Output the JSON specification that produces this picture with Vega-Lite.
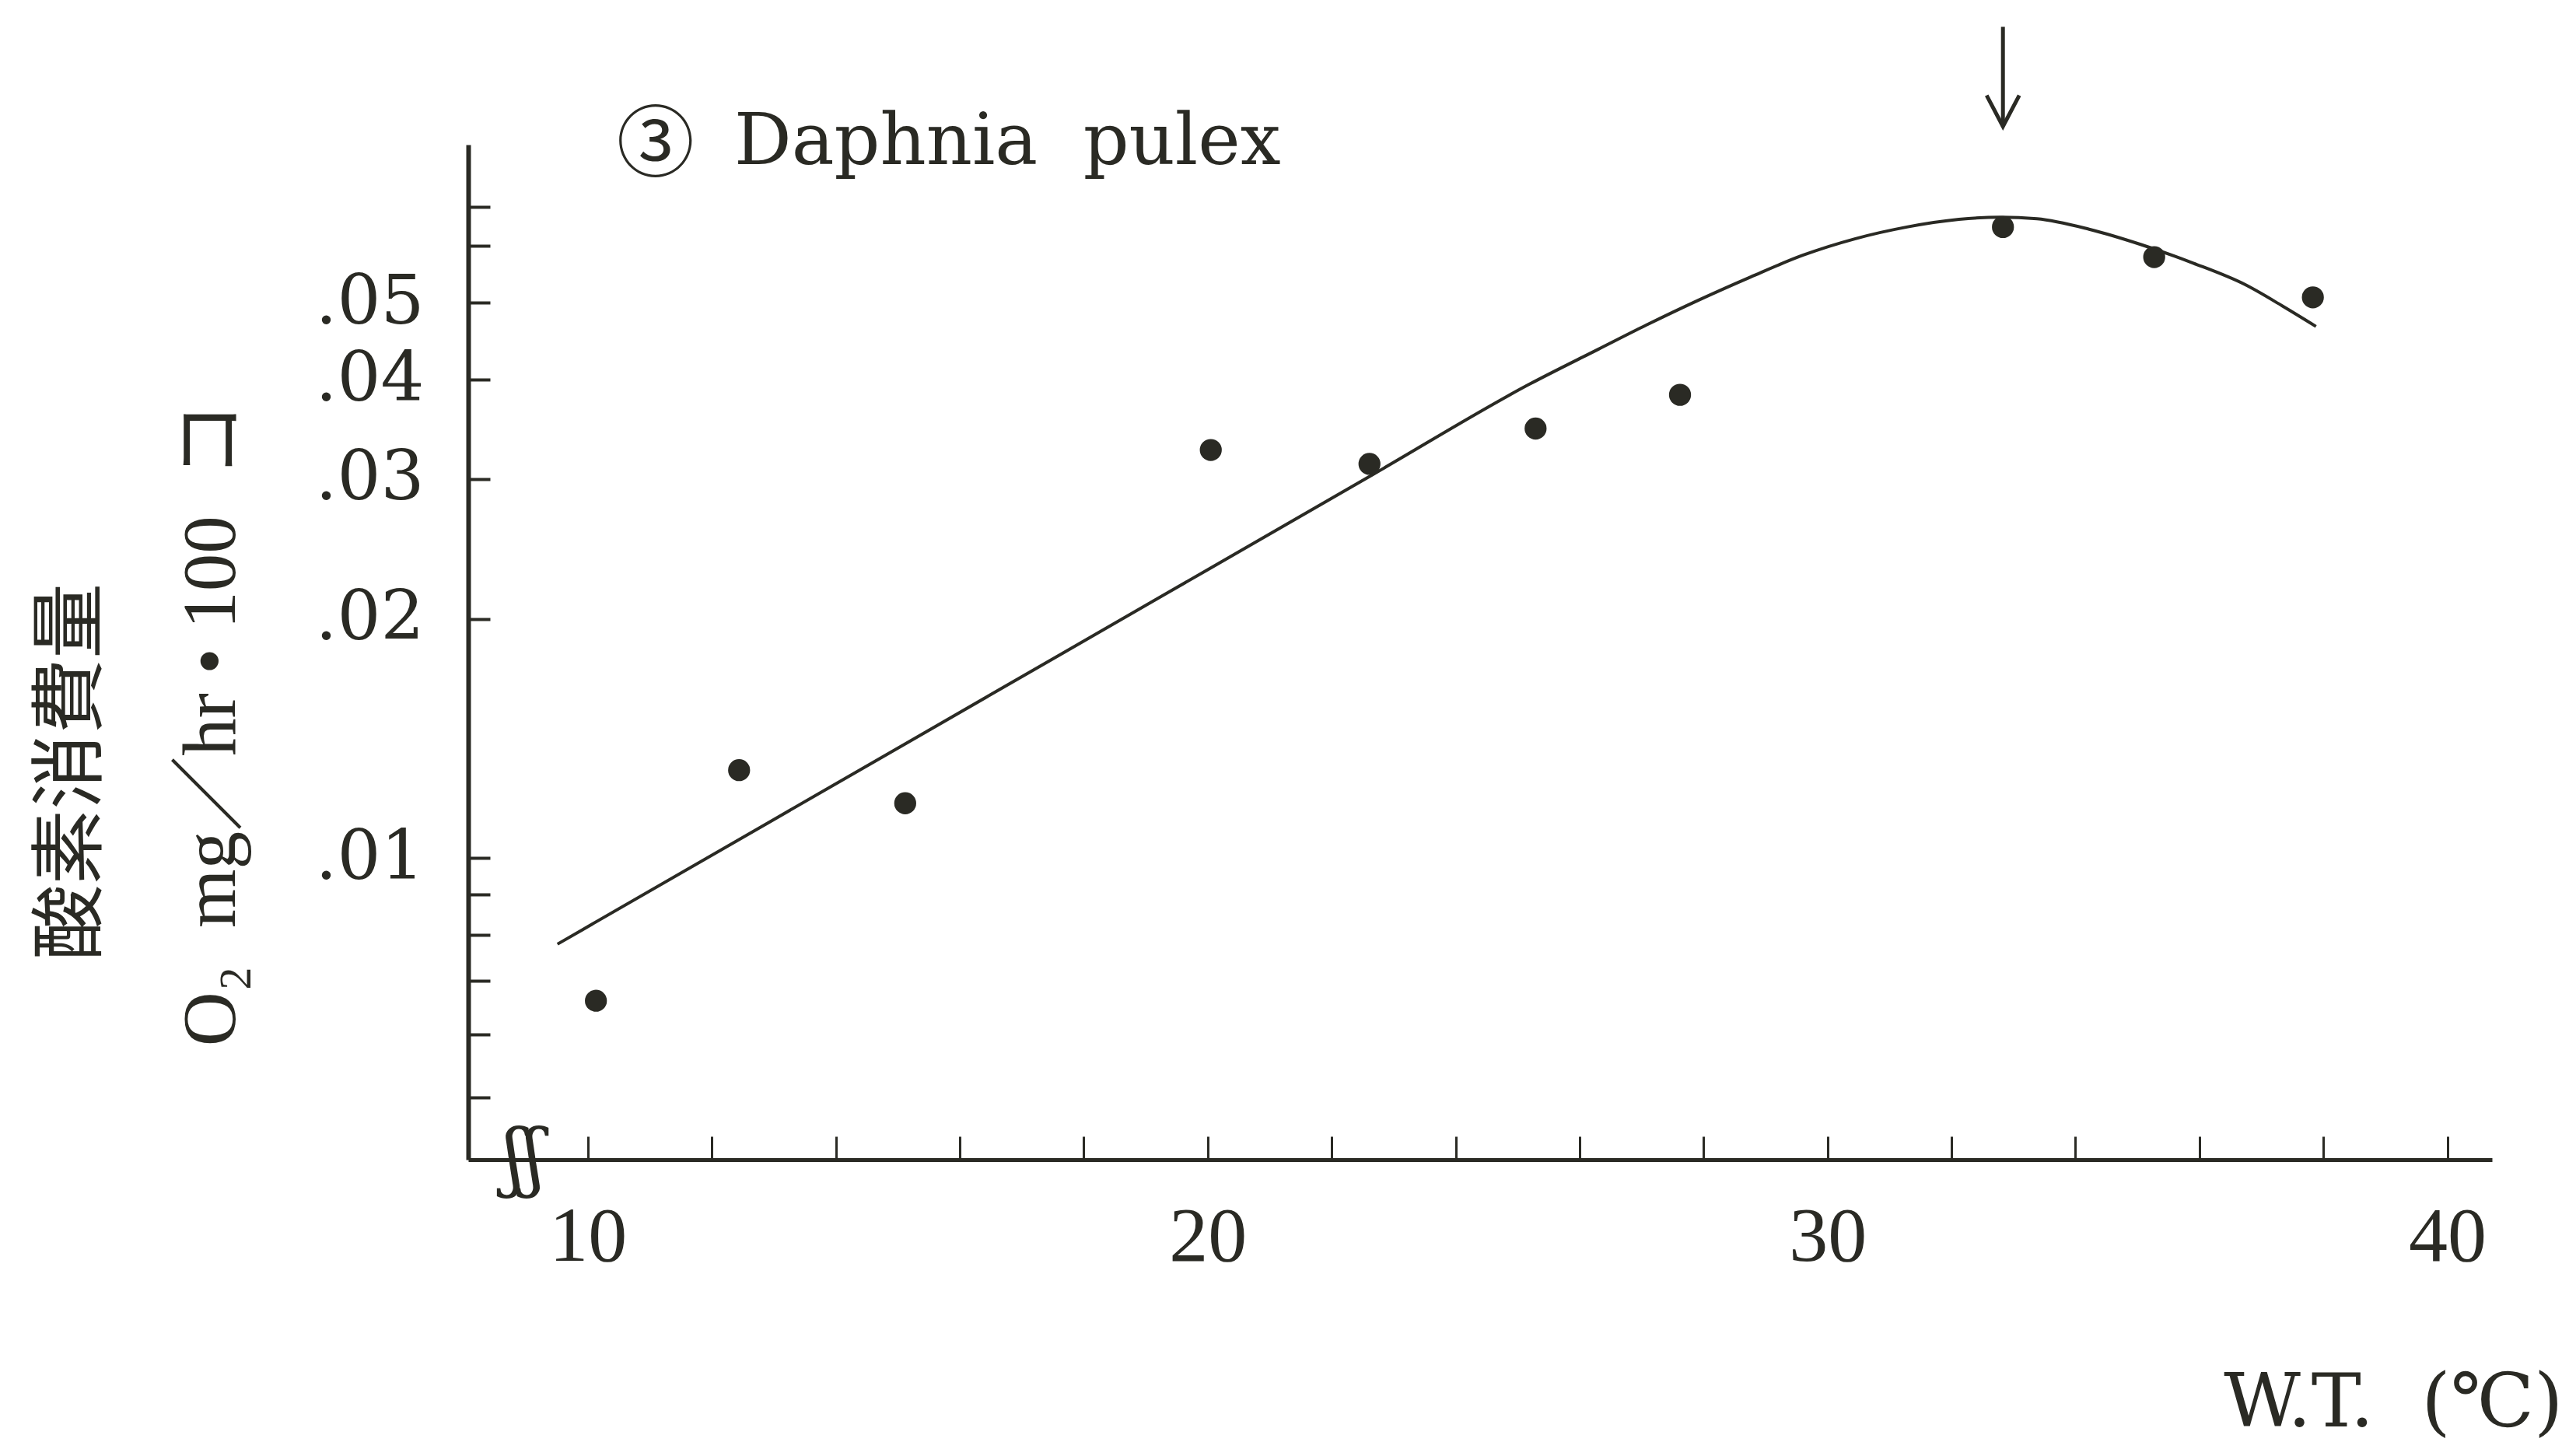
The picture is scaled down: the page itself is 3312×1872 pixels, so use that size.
{
  "$schema": "https://vega.github.io/schema/vega-lite/v6.json",
  "autosize": "none",
  "width": 2602,
  "height": 1305,
  "padding": {"left": 602, "top": 186, "right": 108, "bottom": 381},
  "background": "#ffffff",
  "config": {"view": {"stroke": null}, "axis": {"grid": false}},
  "datasets": {
    "curve": [
      {"t": 9.51, "v": 0.00779},
      {"t": 13, "v": 0.01118},
      {"t": 16.5, "v": 0.01606},
      {"t": 20, "v": 0.02307},
      {"t": 22.7, "v": 0.03051},
      {"t": 25.2, "v": 0.03953},
      {"t": 26.3, "v": 0.0437},
      {"t": 27.08, "v": 0.0469},
      {"t": 27.92, "v": 0.0504},
      {"t": 28.76, "v": 0.0539},
      {"t": 29.6, "v": 0.0574},
      {"t": 30.44, "v": 0.0602},
      {"t": 31.28, "v": 0.0623},
      {"t": 32.12, "v": 0.0637},
      {"t": 32.79, "v": 0.0641},
      {"t": 33.38, "v": 0.0638},
      {"t": 34.22, "v": 0.0619},
      {"t": 35.06, "v": 0.0592},
      {"t": 35.9, "v": 0.0561},
      {"t": 36.74, "v": 0.0527},
      {"t": 37.33, "v": 0.0496},
      {"t": 37.88, "v": 0.0467}
    ],
    "points": [
      {"t": 10.13, "v": 0.00661},
      {"t": 12.44, "v": 0.0129},
      {"t": 15.12, "v": 0.01172},
      {"t": 20.05, "v": 0.03264},
      {"t": 22.61, "v": 0.03135},
      {"t": 25.29, "v": 0.03473},
      {"t": 27.62, "v": 0.0383},
      {"t": 32.83, "v": 0.0623},
      {"t": 35.27, "v": 0.0571},
      {"t": 37.83, "v": 0.0508}
    ],
    "arrow": [
      {"t": 32.83, "top": 0.1113, "tip": 0.0834}
    ],
    "brk": [
      {"t": 8.97, "v": 0.00417, "s": "ʃʃ"}
    ],
    "num": [
      {"t": 11.09, "v": 0.0735, "s": "③"}
    ],
    "label": [
      {"t": 12.36, "v": 0.0748, "s": "Daphnia\u00a0\u00a0pulex"}
    ]
  },
  "layer": [
    {
      "data": {"name": "curve"},
      "mark": {"type": "line", "interpolate": "monotone", "strokeWidth": 4, "color": "#2a2a24"},
      "encoding": {
        "x": {
          "field": "t",
          "type": "quantitative",
          "scale": {"domain": [8.07, 40.72], "nice": false, "zero": false},
          "axis": {
            "values": [10, 12, 14, 16, 18, 20, 22, 24, 26, 28, 30, 32, 34, 36, 38, 40],
            "format": "d",
            "labelExpr": "datum.value % 10 === 0 ? datum.label : ''",
            "tickSize": -30,
            "tickWidth": 3,
            "tickColor": "#2a2a24",
            "domainWidth": 5,
            "domainColor": "#2a2a24",
            "labelFont": "Liberation Serif",
            "labelFontSize": 100,
            "labelColor": "#2a2a24",
            "labelPadding": 80,
            "labelOverlap": false,
            "labelFlush": false,
            "title": "W.T.\u00a0\u00a0(℃)",
            "titleFont": "DejaVu Serif",
            "titleFontSize": 96,
            "titleFontWeight": "normal",
            "titleColor": "#2a2a24",
            "titleX": 2693,
            "titleY": 342,
            "titleAlign": "right",
            "titleBaseline": "alphabetic"
          }
        },
        "y": {
          "field": "v",
          "type": "quantitative",
          "scale": {"type": "log", "domain": [0.00417, 0.0791], "nice": false},
          "axis": {
            "values": [0.005, 0.006, 0.007, 0.008, 0.009, 0.01, 0.02, 0.03, 0.04, 0.05, 0.059, 0.066],
            "labelExpr": "indexof([0.01, 0.02, 0.03, 0.04, 0.05], datum.value) >= 0 ? replace(format(datum.value, '.2f'), '0.', '.') : ''",
            "tickSize": -28,
            "tickWidth": 4,
            "tickColor": "#2a2a24",
            "domainWidth": 6,
            "domainColor": "#2a2a24",
            "labelFont": "DejaVu Serif",
            "labelFontSize": 88,
            "labelColor": "#2a2a24",
            "labelPadding": 85,
            "labelOverlap": false,
            "labelFlush": false,
            "labelBaseline": "middle",
            "title": ["酸素消費量\u00a0\u00a0\u00a0\u00a0\u00a0\u200b", "O₂\u00a0 mg／hr • 100\u00a0 コ"],
            "titleFont": "Liberation Serif, Noto Sans CJK JP",
            "titleFontSize": 97,
            "titleFontWeight": "normal",
            "titleColor": "#2a2a24",
            "titleAngle": 270,
            "titleX": -481,
            "titleY": 745,
            "titleAlign": "center",
            "titleBaseline": "alphabetic",
            "titleLineHeight": 180
          }
        }
      }
    },
    {
      "data": {"name": "points"},
      "mark": {"type": "point", "filled": true, "size": 800, "color": "#2a2a24", "opacity": 1},
      "encoding": {
        "x": {"field": "t", "type": "quantitative"},
        "y": {"field": "v", "type": "quantitative"}
      }
    },
    {
      "data": {"name": "arrow"},
      "mark": {"type": "rule", "strokeWidth": 5, "color": "#2a2a24"},
      "encoding": {
        "x": {"field": "t", "type": "quantitative"},
        "y": {"field": "top", "type": "quantitative"},
        "y2": {"field": "tip"}
      }
    },
    {
      "data": {"name": "arrow"},
      "mark": {"type": "point", "shape": "M-1,-1.9L0,0L1,-1.9", "size": 1764, "filled": false, "strokeWidth": 5, "color": "#2a2a24", "opacity": 1},
      "encoding": {
        "x": {"field": "t", "type": "quantitative"},
        "y": {"field": "tip", "type": "quantitative"}
      }
    },
    {
      "data": {"name": "brk"},
      "mark": {"type": "text", "font": "DejaVu Serif", "fontSize": 95, "baseline": "middle", "align": "center", "color": "#2a2a24"},
      "encoding": {
        "x": {"field": "t", "type": "quantitative"},
        "y": {"field": "v", "type": "quantitative"},
        "text": {"field": "s"}
      }
    },
    {
      "data": {"name": "num"},
      "mark": {"type": "text", "font": "Noto Sans CJK JP", "fontSize": 100, "baseline": "alphabetic", "align": "center", "color": "#2a2a24"},
      "encoding": {
        "x": {"field": "t", "type": "quantitative"},
        "y": {"field": "v", "type": "quantitative"},
        "text": {"field": "s"}
      }
    },
    {
      "data": {"name": "label"},
      "mark": {"type": "text", "font": "DejaVu Serif", "fontSize": 92, "baseline": "alphabetic", "align": "left", "color": "#2a2a24"},
      "encoding": {
        "x": {"field": "t", "type": "quantitative"},
        "y": {"field": "v", "type": "quantitative"},
        "text": {"field": "s"}
      }
    }
  ]
}
